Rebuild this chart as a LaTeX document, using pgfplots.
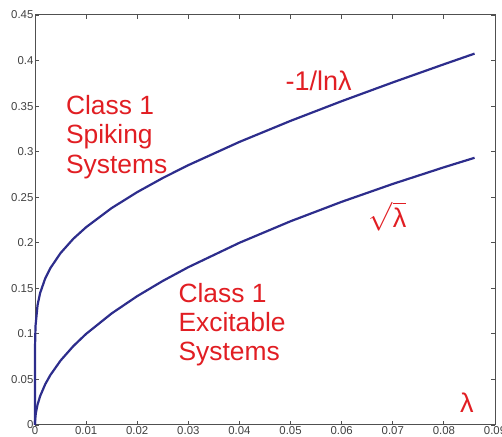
\documentclass[border=0pt]{standalone}
\usepackage{pgfplots}
\pgfplotsset{compat=1.18}
\usepackage{fontspec}
\setmainfont{Liberation Sans}
\definecolor{curve}{RGB}{45,45,140}
\definecolor{lab}{RGB}{225,30,35}
\definecolor{axgray}{RGB}{80,80,80}
\begin{document}
\begin{tikzpicture}
\begin{axis}[
  at={(0,0)}, anchor=south west,
  scale only axis, width=230pt, height=205pt,
  xmin=0, xmax=0.09, ymin=0, ymax=0.45,
  xtick={0,0.01,...,0.09},
  ytick={0,0.05,...,0.45},
  scaled ticks=false,
  tick align=inside,
  major tick length=2pt,
  xticklabels={0,0.01,0.02,0.03,0.04,0.05,0.06,0.07,0.08,0.09},
  yticklabels={0,0.05,0.1,0.15,0.2,0.25,0.3,0.35,0.4,0.45},
  tick label style={font=\fontsize{5.7}{6.8}\selectfont, text=axgray!80!black},
  yticklabel style={inner sep=0.6pt},
  xticklabel style={inner sep=0.8pt},
  axis line style={axgray, line width=0.5pt},
  every tick/.style={axgray, line width=0.4pt},
  clip=false,
]
\addplot[curve, line width=1.1pt] coordinates {
(0,0) (0,0.0434) (0.000001,0.0724) (0.00001,0.0869) (0.0001,0.1086)
(0.0005,0.1316) (0.001,0.1448) (0.002,0.1609) (0.003,0.1721) (0.005,0.1887)
(0.0075,0.2044) (0.01,0.2171) (0.015,0.2381) (0.02,0.2556) (0.025,0.2711)
(0.03,0.2852) (0.04,0.3107) (0.05,0.3338) (0.06,0.3554) (0.07,0.3760)
(0.08,0.3959) (0.086,0.4076)
};
\addplot[curve, line width=1.1pt] coordinates {
(0,0) (0.00002,0.00447) (0.0001,0.0100) (0.0002,0.01414) (0.0005,0.02236)
(0.001,0.03162) (0.002,0.04472) (0.003,0.05477) (0.005,0.07071)
(0.0075,0.08660) (0.01,0.1) (0.015,0.12247) (0.02,0.14142) (0.025,0.15811)
(0.03,0.17321) (0.04,0.2) (0.05,0.22361) (0.06,0.24495) (0.07,0.26458)
(0.08,0.28284) (0.086,0.29326)
};
\node[lab, anchor=north west, align=left, inner sep=0pt, font=\fontsize{13.2}{14.6}\selectfont]
  at (axis cs:0.0060,0.362) {Class 1\\Spiking\\Systems};
\node[lab, anchor=north west, align=left, inner sep=0pt, font=\fontsize{13.2}{14.6}\selectfont]
  at (axis cs:0.0280,0.156) {Class 1\\Excitable\\Systems};
\node[lab, font=\fontsize{13.5}{14.5}\selectfont] at (axis cs:0.0555,0.378) {-1/lnλ};
\node[lab, font=\fontsize{13.5}{14.5}\selectfont] at (axis cs:0.0690,0.229) {$\sqrt{\mbox{λ}}$};
\node[lab, font=\fontsize{13.5}{14.5}\selectfont] at (axis cs:0.0845,0.025) {λ};
\end{axis}
\pgfresetboundingbox
\path[use as bounding box] (-17.5pt,-6pt) rectangle (233.5pt,212.5pt);
\end{tikzpicture}
\end{document}
